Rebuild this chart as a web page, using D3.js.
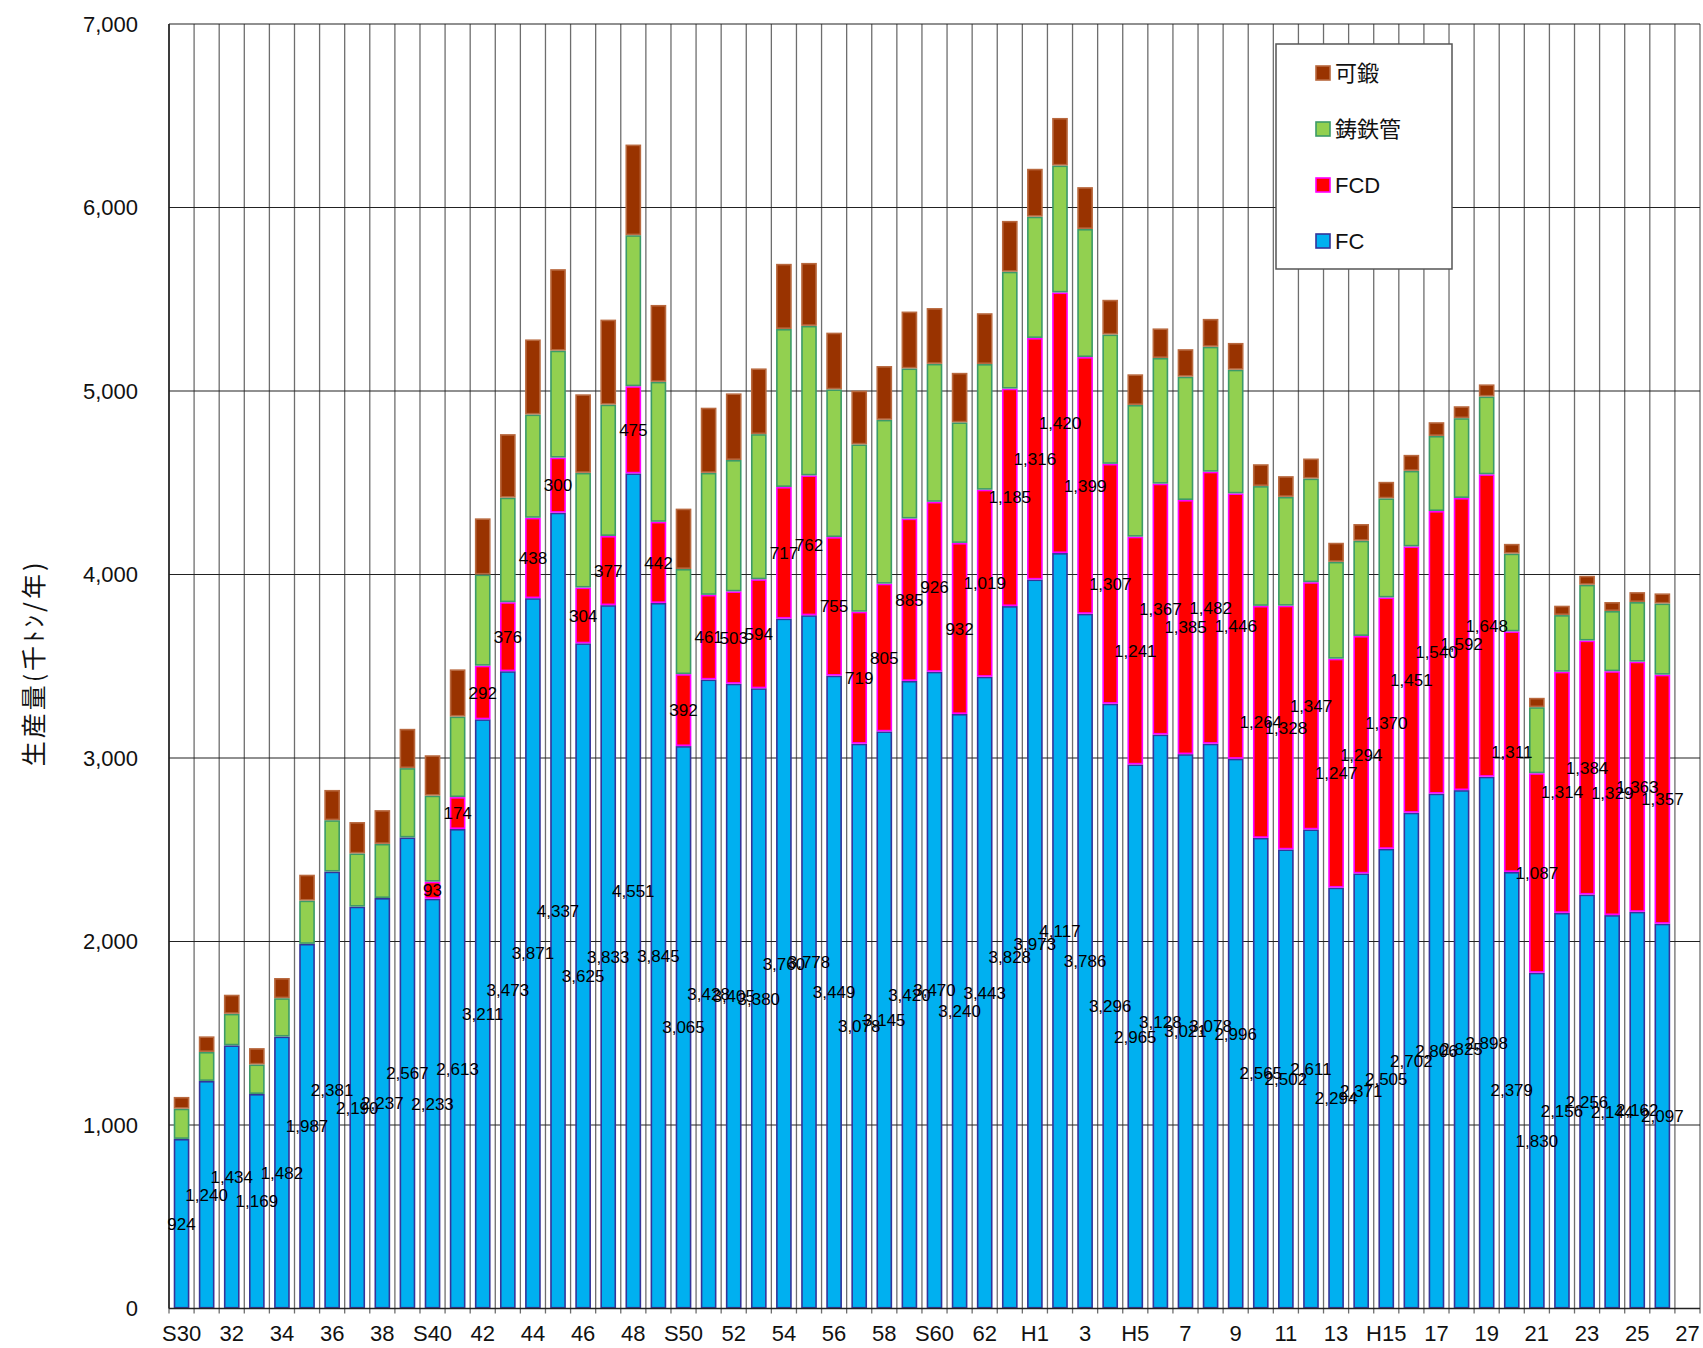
<!DOCTYPE html>
<html><head><meta charset="utf-8">
<script src="https://cdn.jsdelivr.net/npm/d3@7"></script>
<style>body{margin:0;background:#fff} svg{display:block}</style>
</head><body><svg id="chart" width="1703" height="1348"></svg>
<script>
// ---------------- data ----------------
const categories = [
  "S30","S31","S32","S33","S34","S35","S36","S37","S38","S39",
  "S40","S41","S42","S43","S44","S45","S46","S47","S48","S49",
  "S50","S51","S52","S53","S54","S55","S56","S57","S58","S59",
  "S60","S61","S62","S63",
  "H1","H2","H3","H4","H5","H6","H7","H8","H9","H10",
  "H11","H12","H13","H14","H15","H16","H17","H18","H19","H20",
  "H21","H22","H23","H24","H25","H26","H27"
];
// tick labels shown under every other category
const tickLabels = ["S30","32","34","36","38","S40","42","44","46","48","S50","52","54","56","58",
  "S60","62","H1","3","H5","7","9","11","13","H15","17","19","21","23","25","27"];

const fcValues = [924,1240,1434,1169,1482,1987,2381,2190,2237,2567,
  2233,2613,3211,3473,3871,4337,3625,3833,4551,3845,
  3065,3428,3405,3380,3760,3778,3449,3078,3145,3420,
  3470,3240,3443,3828,
  3973,4117,3786,3296,2965,3128,3021,3078,2996,2565,
  2502,2611,2294,2371,2505,2702,2806,2825,2898,2379,
  1830,2156,2256,2144,2162,2097];
const fcdValues = [0,0,0,0,0,0,0,0,0,0,
  93,174,292,376,438,300,304,377,475,442,
  392,461,503,594,717,762,755,719,805,885,
  926,932,1019,1185,
  1316,1420,1399,1307,1241,1367,1385,1482,1446,1264,
  1328,1347,1247,1294,1370,1451,1540,1592,1648,1311,
  1087,1314,1384,1329,1363,1357];
const pipeValues = [165,158,172,161,209,236,280,290,295,378,
  469,439,497,570,563,583,625,716,823,763,
  573,665,716,791,861,815,805,912,893,818,
  752,657,685,637,
  661,692,698,705,718,685,672,681,674,653,
  593,565,528,519,540,412,409,435,424,424,
  360,309,304,328,325,388];
const malleableValues = [64,85,104,89,110,141,165,171,184,214,
  220,257,306,346,409,444,428,463,494,419,
  329,355,363,358,355,343,309,293,293,310,
  304,270,277,277,
  261,259,228,189,167,161,150,152,146,119,
  113,109,104,91,90,87,75,65,66,53,
  51,51,49,49,54,55];

const seriesKeys = ["FC","FCD","鋳鉄管","可鍛"];
const legendOrder = ["可鍛","鋳鉄管","FCD","FC"];
const yTicks = [0,1000,2000,3000,4000,5000,6000,7000];
const yTitle = "生産量(千ﾄﾝ/年)";

// ---------------- layout ----------------
const L = 169, R = 1700, T = 24, B = 1308.5;
const fills   = {"FC":"#00B0F0","FCD":"#FF0000","鋳鉄管":"#92D050","可鍛":"#993300"};
const strokes = {"FC":"#34349a","FCD":"#FF00FF","鋳鉄管":"#3c9a68","可鍛":"#b8683e"};

const svg = d3.select("#chart");
const x = d3.scaleBand().domain(categories).range([L, R]).paddingInner(0.375).paddingOuter(0.1875);
const y = d3.scaleLinear().domain([0, 7000]).range([B, T]);
const step = x.step();

// rows
const rows = fcValues.map((v, i) => ({
  cat: categories[i], "FC": v, "FCD": fcdValues[i], "鋳鉄管": pipeValues[i], "可鍛": malleableValues[i]
}));
const stacked = d3.stack().keys(seriesKeys)(rows);

// vertical gridlines at category boundaries
const bounds = d3.range(categories.length + 1).map(i => L + i * step);
svg.append("g").selectAll("line").data(bounds).join("line")
  .attr("x1", d => d).attr("x2", d => d).attr("y1", T).attr("y2", B + 5)
  .attr("stroke", "#6e6e6e").attr("stroke-width", 1.3);

// horizontal gridlines
svg.append("g").selectAll("line").data(yTicks).join("line")
  .attr("x1", L).attr("x2", R).attr("y1", d => y(d)).attr("y2", d => y(d))
  .attr("stroke", "#222").attr("stroke-width", 1.2);

// bars
const layer = svg.append("g").selectAll("g").data(stacked).join("g")
  .attr("fill", d => fills[d.key]).attr("stroke", d => strokes[d.key]).attr("stroke-width", 1.6);
layer.selectAll("rect").data(d => d.filter(s => s[1] - s[0] > 0)).join("rect")
  .attr("x", d => x(d.data.cat) + 0.8)
  .attr("width", x.bandwidth() - 1.6)
  .attr("y", d => y(d[1]) + 0.8)
  .attr("height", d => Math.max(0, y(d[0]) - y(d[1]) - 1.6));

// axes lines
svg.append("line").attr("x1", L).attr("x2", L).attr("y1", T).attr("y2", B).attr("stroke", "#222").attr("stroke-width", 1.6);
svg.append("line").attr("x1", L).attr("x2", R).attr("y1", B).attr("y2", B).attr("stroke", "#222").attr("stroke-width", 1.6);

// y axis labels
const yAxis = d3.axisLeft(y).tickValues(yTicks).tickFormat(d3.format(",")).tickSize(0).tickPadding(31);
const ya = svg.append("g").attr("transform", `translate(${L},0)`).call(yAxis);
ya.select(".domain").remove();
ya.selectAll("text").attr("font-size", 22).attr("font-family", "'Liberation Sans', Arial, sans-serif").attr("fill", "#111");

// x labels
svg.append("g").selectAll("text").data(tickLabels).join("text")
  .attr("x", (d, i) => x(categories[i * 2]) + x.bandwidth() / 2)
  .attr("y", 1341)
  .attr("text-anchor", "middle")
  .attr("font-size", 22).attr("font-family", "'Liberation Sans', Arial, sans-serif").attr("fill", "#111")
  .text(d => d);

// data labels (FC and FCD)
const fmt = d3.format(",");
const labelG = svg.append("g").attr("font-size", 17).attr("font-family", "'Liberation Sans', Arial, sans-serif")
  .attr("text-anchor", "middle").attr("fill", "#000");
stacked.filter(s => s.key === "FC" || s.key === "FCD").forEach(s => {
  labelG.selectAll(null).data(s.filter(d => d[1] - d[0] > 0)).join("text")
    .attr("x", d => x(d.data.cat) + x.bandwidth() / 2)
    .attr("y", d => y((d[0] + d[1]) / 2))
    .attr("dy", "0.36em")
    .text(d => fmt(d[1] - d[0]));
});

// y title
svg.append("text")
  .attr("transform", "translate(32,663) rotate(-90)")
  .attr("text-anchor", "middle").attr("dominant-baseline", "central")
  .attr("font-size", 25).attr("letter-spacing", 3)
  .attr("font-family", "'Noto Sans CJK JP', sans-serif").attr("fill", "#111")
  .text(yTitle);

// legend
const lg = svg.append("g");
lg.append("rect").attr("x", 1276).attr("y", 44).attr("width", 176).attr("height", 225)
  .attr("fill", "#fff").attr("stroke", "#555").attr("stroke-width", 1.5);
const legendY = d3.scalePoint().domain(legendOrder).range([73, 241]);
const li = lg.selectAll("g.item").data(legendOrder).join("g").attr("class", "item")
  .attr("transform", d => `translate(1316,${legendY(d)})`);
li.append("rect").attr("x", 0).attr("y", -7).attr("width", 14).attr("height", 14)
  .attr("fill", d => fills[d]).attr("stroke", d => strokes[d]).attr("stroke-width", 1.6);
li.append("text").attr("x", 19).attr("dy", "0.36em")
  .attr("font-size", 22).attr("font-family", "'Liberation Sans', 'Noto Sans CJK JP', sans-serif").attr("fill", "#111")
  .text(d => d);
</script></body></html>
